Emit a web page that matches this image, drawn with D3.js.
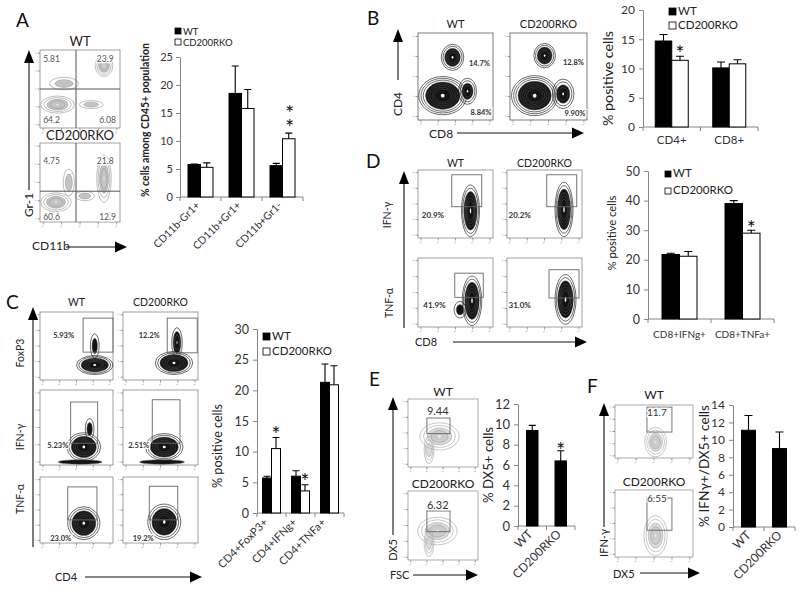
<!DOCTYPE html>
<html>
<head>
<meta charset="utf-8">
<script src="https://cdn.jsdelivr.net/npm/d3@7"></script>
<style>
  body { margin: 0; background: #fff; }
  svg { display: block; font-family: Lato, "Open Sans", sans-serif; }
</style>
</head>
<body>
<svg id="fig" width="800" height="594"></svg>
<script>
// ---------------- Data ----------------
const groups = ['WT', 'CD200RKO'];

// A: myeloid subsets
const aCats = ['CD11b-Gr1+', 'CD11b+Gr1+', 'CD11b+Gr1-'];
const aWT = [5.8, 18.5, 5.6];
const aWTErr = [0.1, 4.9, 0.4];
const aKO = [5.3, 15.8, 10.4];
const aKOErr = [0.8, 3.4, 1.0];
const aTicks = [0, 5, 10, 15, 20, 25];

// B: CD4 / CD8
const bCats = ['CD4+', 'CD8+'];
const bWT = [14.7, 10.1];
const bWTErr = [1.1, 1.0];
const bKO = [11.4, 10.8];
const bKOErr = [0.7, 0.7];
const bTicks = [0, 5, 10, 15, 20];

// C: CD4 subsets
const cCats = ['CD4+FoxP3+', 'CD4+IFNg+', 'CD4+TNFa+'];
const cWT = [5.7, 6.0, 21.3];
const cWTErr = [0.3, 0.9, 3.0];
const cKO = [10.5, 3.6, 20.9];
const cKOErr = [1.8, 1.0, 3.1];
const cTicks = [0, 5, 10, 15, 20, 25, 30];

// D: CD8 cytokines
const dCats = ['CD8+IFNg+', 'CD8+TNFa+'];
const dWT = [21.8, 39.0];
const dWTErr = [0.4, 1.0];
const dKO = [21.2, 29.0];
const dKOErr = [1.6, 1.0];
const dTicks = [0, 10, 20, 30, 40, 50];

// E: DX5+ cells
const eVals = [9.4, 6.4];
const eErr = [0.5, 1.0];
const eTicks = [0, 2, 4, 6, 8, 10, 12];

// F: IFNg+ among DX5+
const fVals = [11.1, 9.0];
const fErr = [1.7, 1.9];
const fTicks = [0, 2, 4, 6, 8, 10, 12, 14];

// significance marks: category index, series index, number of stars
const aStars = [{ cat: 2, ser: 1, n: 2 }];
const bStars = [{ cat: 0, ser: 1, n: 1 }];
const cStars = [{ cat: 0, ser: 1, n: 1 }, { cat: 1, ser: 1, n: 1 }];
const dStars = [{ cat: 1, ser: 1, n: 1 }];
const eStars = [{ cat: 1, ser: 0, n: 1 }];

// flow plot gate percentages
const aPctWT = ['5.81', '23.9', '64.2', '6.08'];
const aPctKO = ['4.75', '21.8', '60.6', '12.9'];
const bPctWT = ['14.7%', '8.84%'];
const bPctKO = ['12.8%', '9.90%'];
const cPctWT = ['5.93%', '5.23%', '23.0%'];
const cPctKO = ['12.2%', '2.51%', '19.2%'];
const dPctWT = ['20.9%', '41.9%'];
const dPctKO = ['20.2%', '31.0%'];
const ePct = ['9.44', '6.32'];
const fPct = ['11.7', '6.55'];

// flow populations, in fraction of each axis: centre x, y, spread rx, ry, contour rings
const aBlobsWT = [
  { x: 0.22, y: 0.30, rx: 0.21, ry: 0.11, n: 4 },
  { x: 0.64, y: 0.30, rx: 0.15, ry: 0.05, n: 2 },
  { x: 0.30, y: 0.57, rx: 0.18, ry: 0.08, n: 2 },
  { x: 0.80, y: 0.80, rx: 0.11, ry: 0.14, n: 4 }
];
const aBlobsKO = [
  { x: 0.20, y: 0.25, rx: 0.19, ry: 0.12, n: 4 },
  { x: 0.36, y: 0.50, rx: 0.07, ry: 0.17, n: 2 },
  { x: 0.56, y: 0.33, rx: 0.12, ry: 0.06, n: 2 },
  { x: 0.80, y: 0.55, rx: 0.09, ry: 0.30, n: 4 }
];
const bBlobsWT = [
  { x: 0.46, y: 0.72, rx: 0.15, ry: 0.15, n: 5 },
  { x: 0.33, y: 0.28, rx: 0.32, ry: 0.22, n: 8 },
  { x: 0.66, y: 0.33, rx: 0.12, ry: 0.15, n: 4 }
];
const bBlobsKO = [
  { x: 0.45, y: 0.74, rx: 0.14, ry: 0.14, n: 5 },
  { x: 0.32, y: 0.28, rx: 0.30, ry: 0.23, n: 8 },
  { x: 0.69, y: 0.30, rx: 0.14, ry: 0.17, n: 4 }
];
const cBlobsWT = [
  [{ x: 0.75, y: 0.22, rx: 0.25, ry: 0.14, n: 6 }, { x: 0.75, y: 0.50, rx: 0.06, ry: 0.18, n: 2 }],
  [{ x: 0.60, y: 0.24, rx: 0.23, ry: 0.19, n: 6 }, { x: 0.68, y: 0.48, rx: 0.06, ry: 0.14, n: 2 }, { x: 0.55, y: 0.04, rx: 0.30, ry: 0.03, n: 1 }],
  [{ x: 0.60, y: 0.30, rx: 0.22, ry: 0.25, n: 6 }]
];
const cBlobsKO = [
  [{ x: 0.68, y: 0.25, rx: 0.25, ry: 0.17, n: 6 }, { x: 0.72, y: 0.55, rx: 0.07, ry: 0.22, n: 3 }],
  [{ x: 0.55, y: 0.24, rx: 0.25, ry: 0.18, n: 6 }, { x: 0.52, y: 0.04, rx: 0.30, ry: 0.03, n: 1 }],
  [{ x: 0.55, y: 0.32, rx: 0.22, ry: 0.27, n: 6 }]
];
const dBlobsWT = [
  [{ x: 0.70, y: 0.40, rx: 0.12, ry: 0.38, n: 6 }],
  [{ x: 0.72, y: 0.38, rx: 0.13, ry: 0.36, n: 6 }, { x: 0.56, y: 0.25, rx: 0.08, ry: 0.12, n: 2 }]
];
const dBlobsKO = [
  [{ x: 0.76, y: 0.42, rx: 0.12, ry: 0.40, n: 6 }],
  [{ x: 0.78, y: 0.40, rx: 0.14, ry: 0.36, n: 6 }]
];
const eBlobs = [
  [{ x: 0.45, y: 0.45, rx: 0.28, ry: 0.20, n: 4 }, { x: 0.30, y: 0.25, rx: 0.07, ry: 0.20, n: 3 }],
  [{ x: 0.42, y: 0.42, rx: 0.28, ry: 0.20, n: 4 }, { x: 0.30, y: 0.25, rx: 0.07, ry: 0.20, n: 3 }]
];
const fBlobs = [
  [{ x: 0.52, y: 0.30, rx: 0.14, ry: 0.28, n: 4 }],
  [{ x: 0.52, y: 0.32, rx: 0.15, ry: 0.30, n: 4 }]
];

// gates, in fraction of each axis: [x0, x1, y0, y1]
const cGatesWT = [[0.59, 1.0, 0.41, 0.91], [0.42, 0.79, 0.29, 0.84], [0.38, 0.78, 0.35, 0.85]];
const cGatesKO = [[0.59, 0.99, 0.40, 0.91], [0.39, 0.76, 0.29, 0.87], [0.35, 0.73, 0.35, 0.86]];
const dGatesWT = [[0.45, 0.85, 0.46, 0.93], [0.49, 0.87, 0.43, 0.78]];
const dGatesKO = [[0.53, 0.93, 0.46, 0.93], [0.56, 0.96, 0.42, 0.83]];
const eGates = [[0.27, 0.60, 0.49, 0.72], [0.27, 0.60, 0.41, 0.71]];
const fGates = [[0.41, 0.73, 0.49, 0.96], [0.41, 0.73, 0.40, 0.88]];

// ---------------- Drawing ----------------
const svg = d3.select('#fig');
const AXIS_GREY = '#868686';

function panelLetter(t, x, y) {
  svg.append('text').attr('x', x).attr('y', y)
    .style('font-size', '19px').attr('fill', '#111').text(t);
}

function arrow(x1, y1, x2, y2, head = 12, half = 5) {
  const ang = Math.atan2(y2 - y1, x2 - x1);
  const bx = x2 - head * Math.cos(ang), by = y2 - head * Math.sin(ang);
  svg.append('line').attr('x1', x1).attr('y1', y1).attr('x2', bx).attr('y2', by)
    .attr('stroke', '#111').attr('stroke-width', 1.1);
  const px = -Math.sin(ang) * half, py = Math.cos(ang) * half;
  svg.append('path')
    .attr('d', `M${x2},${y2}L${bx + px},${by + py}L${bx - px},${by - py}Z`)
    .attr('fill', '#000');
}

function label(t, x, y, size, opts = {}) {
  const el = svg.append('text').attr('x', x).attr('y', y)
    .attr('text-anchor', opts.anchor || 'start')
    .style('font-size', size + 'px')
    .style('font-weight', opts.bold ? 'bold' : 'normal')
    .attr('fill', opts.fill || '#222')
    .text(t);
  if (opts.rotate) el.attr('transform', `rotate(${opts.rotate},${x},${y})`);
  if (opts.len) el.attr('textLength', opts.len).attr('lengthAdjust', 'spacingAndGlyphs');
  return el;
}

const blobStyles = {
  grey: { outer: '#9a9a9a', innerFill: '#c4c4c4', innerStroke: '#8a8a8a', core: '#e6e6e6', cut: 0.6 },
  dark: { outer: '#1a1a1a', innerFill: '#141414', innerStroke: '#5a5a5a', core: '#fff', cut: 0.72 },
  haze: { outer: '#a8a8a8', innerFill: '#bdbdbd', innerStroke: '#8f8f8f', core: '#e8e8e8', cut: 0.6 }
};

function flowPlot(o) {
  const g = svg.append('g');
  const fx = d3.scaleLinear().domain([0, 1]).range([o.x, o.x + o.w]);
  const fy = d3.scaleLinear().domain([0, 1]).range([o.y + o.h, o.y]);
  const st = blobStyles[o.style];

  g.append('rect').attr('x', o.x).attr('y', o.y).attr('width', o.w).attr('height', o.h)
    .attr('fill', '#fff').attr('stroke', o.frame || '#777').attr('stroke-width', 0.7);

  // decade ticks
  const dec = d3.scaleLinear().domain([0, 4]).range([0.04, 0.96]);
  d3.range(5).forEach(i => {
    const tx = fx(dec(i)), ty = fy(dec(i));
    g.append('line').attr('x1', tx).attr('x2', tx).attr('y1', o.y + o.h).attr('y2', o.y + o.h + 2.5)
      .attr('stroke', '#777').attr('stroke-width', 0.7);
    g.append('line').attr('x1', tx - 1.5).attr('x2', tx + 0.5).attr('y1', o.y + o.h + 5).attr('y2', o.y + o.h + 4)
      .attr('stroke', '#999').attr('stroke-width', 0.6);
    g.append('line').attr('y1', ty).attr('y2', ty).attr('x1', o.x).attr('x2', o.x - 2.5)
      .attr('stroke', '#777').attr('stroke-width', 0.7);
    g.append('line').attr('y1', ty - 1).attr('y2', ty + 0.5).attr('x1', o.x - 5).attr('x2', o.x - 4)
      .attr('stroke', '#999').attr('stroke-width', 0.6);
  });

  // populations as nested contour rings
  (o.blobs || []).forEach(b => {
    const rxp = fx(b.rx) - fx(0), ryp = fy(0) - fy(b.ry);
    for (let k = b.n; k >= 1; k--) {
      const f = k / b.n;
      const inner = f <= st.cut || b.n === 1;
      g.append('ellipse')
        .attr('cx', fx(b.x)).attr('cy', fy(b.y))
        .attr('rx', rxp * (0.25 + 0.75 * f)).attr('ry', ryp * (0.25 + 0.75 * f))
        .attr('fill', inner ? st.innerFill : 'none')
        .attr('fill-opacity', o.style === 'haze' ? 0.55 : 1)
        .attr('stroke', inner ? st.innerStroke : st.outer)
        .attr('stroke-width', inner ? 0.45 : 0.65);
    }
    if (b.n > 2) {
      g.append('ellipse').attr('cx', fx(b.x)).attr('cy', fy(b.y))
        .attr('rx', rxp * 0.08).attr('ry', ryp * 0.1).attr('fill', st.core);
    }
  });

  // quadrant lines
  if (o.quad) {
    g.append('line').attr('x1', fx(o.quad[0])).attr('x2', fx(o.quad[0])).attr('y1', o.y).attr('y2', o.y + o.h)
      .attr('stroke', '#555').attr('stroke-width', 1);
    g.append('line').attr('y1', fy(o.quad[1])).attr('y2', fy(o.quad[1])).attr('x1', o.x).attr('x2', o.x + o.w)
      .attr('stroke', '#555').attr('stroke-width', 1);
  }
  // rectangular gate
  if (o.gate) {
    const [x0, x1, y0, y1] = o.gate;
    g.append('rect').attr('x', fx(x0)).attr('y', fy(y1))
      .attr('width', fx(x1) - fx(x0)).attr('height', fy(y0) - fy(y1))
      .attr('fill', 'none').attr('stroke', '#666').attr('stroke-width', 0.9);
  }
  // gate numbers
  (o.labels || []).forEach(l => {
    g.append('text').attr('x', fx(l.x)).attr('y', fy(l.y))
      .attr('text-anchor', l.anchor || 'start')
      .style('font-size', (o.labelSize || 8) + 'px')
      .style('font-weight', o.labelBold ? 'bold' : 'normal')
      .attr('fill', o.labelFill || '#333')
      .attr('stroke', '#fff').attr('stroke-width', 2.5).attr('paint-order', 'stroke')
      .text(l.t);
  });
  if (o.title) {
    label(o.title, o.x + o.w / 2, o.y - o.titleGap, o.titleSize, { anchor: 'middle', fill: '#222' });
  }
}

function barChart(o) {
  const g = svg.append('g');
  const x = d3.scaleBand().domain(o.cats).range([o.x0, o.x1]);
  const y = d3.scaleLinear().domain([0, o.max]).range([o.yBot, o.yTop]);
  const ns = o.series.length;
  const barX = (cat, si) => x(cat) + x.bandwidth() / 2 + (si - ns / 2) * o.barW;

  // axes
  const yAxis = g.append('g').attr('transform', `translate(${o.x0},0)`)
    .call(d3.axisLeft(y).tickValues(o.ticks).tickSize(4).tickSizeOuter(0).tickPadding(o.tickPad || 3));
  yAxis.select('.domain').attr('stroke', AXIS_GREY);
  yAxis.selectAll('.tick line').attr('stroke', AXIS_GREY);
  yAxis.selectAll('.tick text').style('font-size', o.tickFont + 'px')
    .style('font-family', 'Lato, "Open Sans", sans-serif').attr('fill', '#333');

  g.append('line').attr('x1', o.x0).attr('x2', o.x1).attr('y1', y(0)).attr('y2', y(0))
    .attr('stroke', AXIS_GREY);
  g.selectAll(null).data(o.cats.map(c => x(c)).concat([x.range()[1]])).join('line')
    .attr('x1', d => d).attr('x2', d => d).attr('y1', y(0)).attr('y2', y(0) + 4)
    .attr('stroke', AXIS_GREY);

  o.series.forEach((s, si) => {
    g.selectAll(null).data(o.cats).join('rect')
      .attr('x', d => barX(d, si))
      .attr('y', (d, i) => y(s.vals[i]))
      .attr('width', o.barW)
      .attr('height', (d, i) => y(0) - y(s.vals[i]))
      .attr('fill', s.fill).attr('stroke', '#000').attr('stroke-width', 1);
    // error bars (upper only)
    g.selectAll(null).data(o.cats).join('path')
      .attr('d', (d, i) => {
        const cx = barX(d, si) + o.barW / 2;
        const top = y(s.vals[i] + s.errs[i]);
        return `M${cx},${y(s.vals[i])}V${top}M${cx - o.cap},${top}H${cx + o.cap}`;
      })
      .attr('stroke', '#000').attr('stroke-width', 1.1).attr('fill', 'none');
  });

  // significance stars; several are stacked vertically in one text
  (o.stars || []).forEach(s => {
    const v = o.series[s.ser].vals[s.cat] + o.series[s.ser].errs[s.cat];
    const cx = barX(o.cats[s.cat], s.ser) + o.barW / 2 + (o.starDx || 0);
    if (s.n === 1) {
      g.append('text').attr('x', cx).attr('y', y(v) - o.starGap + 9)
        .attr('text-anchor', 'middle').style('font-size', '21px').attr('fill', '#111').text('*');
    } else {
      g.append('text').attr('x', cx).attr('y', y(v) - o.starGap - 10 * s.n)
        .style('writing-mode', 'vertical-rl').style('text-orientation', 'upright')
        .style('letter-spacing', '-11px').style('font-size', '21px').attr('fill', '#111')
        .text('*'.repeat(s.n));
    }
  });

  // category labels
  o.cats.forEach(c => {
    const cx = x(c) + x.bandwidth() / 2 + (o.catDx || 0);
    if (o.catRotate) {
      label(c, cx, y(0) + o.catDy, o.catFont, { anchor: 'end', rotate: o.catRotate, fill: '#333' });
    } else {
      label(c, cx, y(0) + o.catDy, o.catFont, { anchor: 'middle', fill: '#333' });
    }
  });

  // y title
  const yl = o.yLabel;
  label(yl.text, yl.x, (o.yBot + o.yTop) / 2 + (yl.dy || 0), yl.size,
    { anchor: 'middle', rotate: -90, bold: yl.bold, len: yl.len, fill: '#222' });

  // legend
  if (o.legend) {
    const lg = o.legend;
    o.series.forEach((s, si) => {
      g.append('rect').attr('x', lg.x).attr('y', lg.y + si * lg.gap)
        .attr('width', lg.size).attr('height', lg.size)
        .attr('fill', s.fill).attr('stroke', '#000').attr('stroke-width', 0.8);
      label(groups[si], lg.x + lg.size + 2, lg.y + si * lg.gap + lg.size + (lg.dy || 0), lg.font, { fill: '#222' });
    });
  }
}

// ---------- Panel A ----------
panelLetter('A', 16, 27);
flowPlot({ x: 40, y: 50, w: 80, h: 78, style: 'grey', blobs: aBlobsWT, quad: [0.45, 0.5],
  title: 'WT', titleSize: 13, titleGap: 4, labelSize: 8.5, labelFill: '#555',
  labels: [{ t: aPctWT[0], x: 0.04, y: 0.84 }, { t: aPctWT[1], x: 0.71, y: 0.84 },
           { t: aPctWT[2], x: 0.04, y: 0.06 }, { t: aPctWT[3], x: 0.74, y: 0.06 }] });
flowPlot({ x: 40, y: 143, w: 80, h: 79, style: 'grey', blobs: aBlobsKO, quad: [0.45, 0.39],
  title: 'CD200RKO', titleSize: 13, titleGap: 3, labelSize: 8.5, labelFill: '#555',
  labels: [{ t: aPctKO[0], x: 0.04, y: 0.74 }, { t: aPctKO[1], x: 0.71, y: 0.74 },
           { t: aPctKO[2], x: 0.04, y: 0.02 }, { t: aPctKO[3], x: 0.74, y: 0.02 }] });
arrow(29, 190, 29, 50, 13, 5);
label('Gr-1', 33, 205, 12, { anchor: 'middle', rotate: -90 });
label('CD11b', 32, 250, 12);
arrow(66, 247, 127, 247, 12, 5.5);

barChart({ x0: 180, x1: 303, yBot: 197, yTop: 57, max: 25, ticks: aTicks, tickFont: 11,
  cats: aCats, barW: 12.5, cap: 3.5, stars: aStars, starGap: 13, starDx: 1,
  series: [{ vals: aWT, errs: aWTErr, fill: '#000' }, { vals: aKO, errs: aKOErr, fill: '#fff' }],
  catRotate: -45, catDy: 9, catFont: 10.5, catDx: 0,
  yLabel: { text: '% cells among CD45+ population', x: 149, size: 10.5, bold: true, len: 154, dy: -7 },
  legend: { x: 175, y: 28, size: 6, gap: 11, font: 9.5, dy: 0.5 } });

// ---------- Panel B ----------
panelLetter('B', 367, 25);
flowPlot({ x: 418, y: 33, w: 75, h: 87, style: 'dark', blobs: bBlobsWT, frame: '#444',
  title: 'WT', titleSize: 11, titleGap: 5, labelSize: 7.5, labelBold: true,
  labels: [{ t: bPctWT[0], x: 0.96, y: 0.62, anchor: 'end' }, { t: bPctWT[1], x: 0.98, y: 0.06, anchor: 'end' }] });
flowPlot({ x: 510, y: 33, w: 77, h: 87, style: 'dark', blobs: bBlobsKO, frame: '#444',
  title: 'CD200RKO', titleSize: 11, titleGap: 5, labelSize: 7.5, labelBold: true,
  labels: [{ t: bPctKO[0], x: 0.96, y: 0.63, anchor: 'end' }, { t: bPctKO[1], x: 0.98, y: 0.05, anchor: 'end' }] });
arrow(398, 80, 398, 29, 13, 5);
label('CD4', 402, 104, 12, { anchor: 'middle', rotate: -90 });
label('CD8', 429, 138, 12);
arrow(457, 133, 584, 133, 12, 5.5);

barChart({ x0: 643, x1: 758, yBot: 127, yTop: 10, max: 20, ticks: bTicks, tickFont: 12, tickPad: 4,
  cats: bCats, barW: 16.5, cap: 4, stars: bStars, starGap: 4,
  series: [{ vals: bWT, errs: bWTErr, fill: '#000' }, { vals: bKO, errs: bKOErr, fill: '#fff' }],
  catDy: 17, catFont: 11.5,
  yLabel: { text: '% positive cells', x: 613, size: 13, len: 95, dy: 10 },
  legend: { x: 669, y: 8, size: 7, gap: 14, font: 11.5 } });

// ---------- Panel C ----------
panelLetter('C', 6, 309);
const cRows = [[312, 68], [390, 75], [477, 66]];
const cCols = [[40, 73], [123, 75]];
const cLabelPos = [[0.18, 0.62], [0.10, 0.23], [0.14, 0.03]];
const cLabelPosKO = [[0.21, 0.62], [0.07, 0.23], [0.13, 0.03]];
cRows.forEach(([ry, rh], r) => {
  flowPlot({ x: cCols[0][0], y: ry, w: cCols[0][1], h: rh, style: 'dark', blobs: cBlobsWT[r], gate: cGatesWT[r],
    title: r === 0 ? 'WT' : null, titleSize: 10.5, titleGap: 6, labelSize: 7.5, labelBold: true,
    labels: [{ t: cPctWT[r], x: cLabelPos[r][0], y: cLabelPos[r][1] }] });
  flowPlot({ x: cCols[1][0], y: ry, w: cCols[1][1], h: rh, style: 'dark', blobs: cBlobsKO[r], gate: cGatesKO[r],
    title: r === 0 ? 'CD200RKO' : null, titleSize: 10.5, titleGap: 6, labelSize: 7.5, labelBold: true,
    labels: [{ t: cPctKO[r], x: cLabelPosKO[r][0], y: cLabelPosKO[r][1] }] });
});
arrow(33, 547, 33, 307, 13, 5);
label('FoxP3', 24, 353, 10.5, { anchor: 'middle', rotate: -90 });
label('IFN-\u03b3', 24, 437, 10.5, { anchor: 'middle', rotate: -90 });
label('TNF-\u03b1', 24, 499, 10.5, { anchor: 'middle', rotate: -90 });
label('CD4', 55, 581, 11);
arrow(85, 577, 202, 577, 12, 5.5);

barChart({ x0: 257, x1: 344, yBot: 513, yTop: 329, max: 30, ticks: cTicks, tickFont: 12.5, tickPad: 4,
  cats: cCats, barW: 9, cap: 3.5, stars: cStars, starGap: 5,
  series: [{ vals: cWT, errs: cWTErr, fill: '#000' }, { vals: cKO, errs: cKOErr, fill: '#fff' }],
  catRotate: -45, catDy: 10, catFont: 11, catDx: -3,
  yLabel: { text: '% positive cells', x: 222, size: 13, len: 84, dy: 25 },
  legend: { x: 263, y: 333, size: 7, gap: 15, font: 11.5 } });

// ---------- Panel D ----------
panelLetter('D', 366, 168);
const dRows = [[170, 68], [258, 69]];
const dCols = [[418, 75], [507, 75]];
dRows.forEach(([ry, rh], r) => {
  flowPlot({ x: dCols[0][0], y: ry, w: dCols[0][1], h: rh, style: 'dark', blobs: dBlobsWT[r], gate: dGatesWT[r],
    title: r === 0 ? 'WT' : null, titleSize: 10.5, titleGap: 3, labelSize: 8, labelBold: true,
    labels: [{ t: dPctWT[r], x: r === 0 ? 0.05 : 0.07, y: r === 0 ? 0.29 : 0.28 }] });
  flowPlot({ x: dCols[1][0], y: ry, w: dCols[1][1], h: rh, style: 'dark', blobs: dBlobsKO[r], gate: dGatesKO[r],
    title: r === 0 ? 'CD200RKO' : null, titleSize: 10.5, titleGap: 3, labelSize: 8, labelBold: true,
    labels: [{ t: dPctKO[r], x: 0.02, y: r === 0 ? 0.29 : 0.28 }] });
});
arrow(404, 328, 404, 171, 13, 5);
label('IFN-\u03b3', 391, 215, 10.5, { anchor: 'middle', rotate: -90 });
label('TNF-\u03b1', 393, 303, 10.5, { anchor: 'middle', rotate: -90 });
label('CD8', 415, 346, 11);
arrow(453, 342, 587, 342, 12, 5.5);

barChart({ x0: 648, x1: 774, yBot: 319, yTop: 171, max: 50, ticks: dTicks, tickFont: 12.5, tickPad: 4,
  cats: dCats, barW: 17.5, cap: 4, stars: dStars, starGap: 3,
  series: [{ vals: dWT, errs: dWTErr, fill: '#000' }, { vals: dKO, errs: dKOErr, fill: '#fff' }],
  catDy: 19, catFont: 10,
  yLabel: { text: '% positive cells', x: 616, size: 12, len: 75, dy: -12 },
  legend: { x: 665, y: 171, size: 6, gap: 17, font: 11.5 } });

// ---------- Panel E ----------
panelLetter('E', 369, 386);
const eRows = [[399, 68], [491, 69]];
eRows.forEach(([ry, rh], r) => {
  flowPlot({ x: 408, y: ry, w: 70, h: rh, style: 'haze', blobs: eBlobs[r], gate: eGates[r], frame: '#888',
    title: groups[r], titleSize: 12, titleGap: 3, labelSize: 11, labelFill: '#333',
    labels: [{ t: ePct[r], x: 0.27, y: r === 0 ? 0.77 : 0.74 }] });
});
arrow(393, 535, 393, 397, 13, 5);
label('DX5', 397, 550, 11, { anchor: 'middle', rotate: -90 });
label('FSC', 390, 579, 11);
arrow(413, 575, 478, 575, 12, 5.5);

barChart({ x0: 518, x1: 575, yBot: 526, yTop: 404, max: 12, ticks: eTicks, tickFont: 13, tickPad: 4,
  cats: groups, barW: 11.5, cap: 3.5, stars: eStars, starGap: 2,
  series: [{ vals: eVals, errs: eErr, fill: '#000' }],
  catRotate: -45, catDy: 9, catFont: 12, catDx: 1,
  yLabel: { text: '% DX5+ cells', x: 493, size: 13.5, len: 76, dy: 0 } });

// ---------- Panel F ----------
panelLetter('F', 587, 393);
const fRows = [[405, 53], [490, 67]];
fRows.forEach(([ry, rh], r) => {
  flowPlot({ x: 615, y: ry, w: 78, h: rh, style: 'haze', blobs: fBlobs[r], gate: fGates[r], frame: '#888',
    title: groups[r], titleSize: 12, titleGap: r === 0 ? 6 : 4, labelSize: 10, labelFill: '#333',
    labels: [{ t: fPct[r], x: 0.41, y: r === 0 ? 0.80 : 0.82 }] });
});
arrow(604, 527, 604, 403, 13, 5);
label('IFN-\u03b3', 608, 543, 11, { anchor: 'middle', rotate: -90 });
label('DX5', 613, 578, 11);
arrow(640, 573, 700, 573, 12, 5.5);

barChart({ x0: 733, x1: 795, yBot: 527, yTop: 405, max: 14, ticks: fTicks, tickFont: 12, tickPad: 4,
  cats: groups, barW: 14, cap: 4, stars: [],
  series: [{ vals: fVals, errs: fErr, fill: '#000' }],
  catRotate: -45, catDy: 9, catFont: 12, catDx: 3,
  yLabel: { text: '% IFN\u03b3+/DX5+ cells', x: 709, size: 12.5, len: 122, dy: 0 } });
</script>
</body>
</html>
